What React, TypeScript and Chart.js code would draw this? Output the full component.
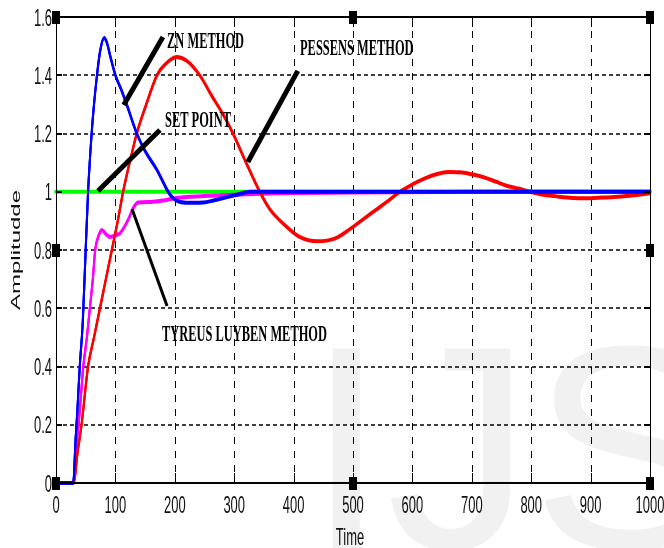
import React, { useEffect, useRef } from "react";
import { Chart, registerables } from "chart.js";

Chart.register(...registerables);

// ---- Axis ticks ----
const xTicks = [0, 100, 200, 300, 400, 500, 600, 700, 800, 900, 1000];
const xTickLabels = ["0", "100", "200", "300", "400", "500", "600", "700", "800", "900", "1000"];
const yTicks = [0, 0.2, 0.4, 0.6, 0.8, 1.0, 1.2, 1.4, 1.6];
const yTickLabels = ["0", "0.2", "0.4", "0.6", "0.8", "1", "1.2", "1.4", "1.6"];

// ---- Series ----
const znTime = [0, 29, 33, 36, 40, 45, 49, 54, 60, 64, 69, 74, 81, 86, 92, 100, 110, 119, 136, 150, 170, 192, 209, 230, 248, 265, 285, 305, 327, 400, 500, 600, 700, 800, 900, 1000];
const znValue = [0, 0, 0.15, 0.25, 0.4, 0.55, 0.75, 1.0, 1.2, 1.3, 1.4, 1.48, 1.528, 1.51, 1.46, 1.40, 1.35, 1.30, 1.2, 1.14, 1.075, 0.99, 0.965, 0.962, 0.963, 0.97, 0.98, 0.99, 1.0, 1.0, 1.0, 1.0, 1.0, 1.0, 1.0, 1.0];

const pessenTime = [0, 30, 36, 43, 54, 64, 74, 84, 94, 104, 113, 124, 136, 152, 170, 185, 203, 220, 242, 262, 280, 298, 320, 343, 360, 385, 410, 440, 470, 495, 520, 540, 560, 579, 600, 620, 640, 660, 680, 700, 720, 740, 760, 780, 798, 820, 840, 860, 880, 900, 920, 940, 960, 980, 1000];
const pessenValue = [0, 0, 0.1, 0.2, 0.4, 0.5, 0.6, 0.7, 0.8, 0.9, 1.0, 1.1, 1.2, 1.3, 1.4, 1.44, 1.463, 1.45, 1.4, 1.33, 1.27, 1.2, 1.1, 1.0, 0.94, 0.886, 0.845, 0.83, 0.84, 0.872, 0.91, 0.94, 0.97, 1.0, 1.025, 1.045, 1.06, 1.068, 1.067, 1.06, 1.05, 1.035, 1.02, 1.01, 1.0, 0.99, 0.985, 0.98, 0.978, 0.978, 0.98, 0.982, 0.985, 0.99, 0.995];

const tlTime = [0, 29, 33, 38, 42, 46, 52, 57, 62, 66, 72, 77, 84, 91, 100, 108, 118, 125, 130, 138, 160, 180, 200, 250, 300, 370, 500, 720, 1000];
const tlValue = [0, 0, 0.1, 0.2, 0.3, 0.4, 0.5, 0.6, 0.7, 0.8, 0.85, 0.869, 0.855, 0.845, 0.85, 0.858, 0.89, 0.92, 0.944, 0.963, 0.965, 0.97, 0.978, 0.985, 0.99, 0.995, 0.997, 1.0, 1.0];

const spTime = [0, 1000];
const spValue = [1, 1];

// ---- Annotations (data coordinates) ----
const annotationLabels = ["ZN METHOD", "SET POINT", "PESSENS METHOD", "TYREUS LUYBEN METHOD"];
const annotationTextX = [187, 183.5, 410.8, 178.5];
const annotationTextY = [1.494, 1.222, 1.4695, 0.4876];
const annotationFromX = [114, 70.7, 323, 128];
const annotationFromY = [1.298, 1.0026, 1.102, 0.941];
const annotationToX = [180, 175, 407, 187];
const annotationToY = [1.531, 1.212, 1.415, 0.608];
const annotationWeight = [5, 5, 5, 3];

const xTitle = "Time";
const yTitle = "Amplitudde";
const watermark = "IJS";

const SQ = 0.54; // horizontal squeeze of all text
const SANS = '"Liberation Sans", Arial, sans-serif';
const SERIF = '"Liberation Serif", "Times New Roman", serif';

function squeezedText(ctx: CanvasRenderingContext2D, text: string, x: number, y: number, font: string, align: CanvasTextAlign) {
  ctx.save();
  ctx.font = font;
  ctx.translate(x, y);
  ctx.scale(SQ, 1);
  ctx.textAlign = align;
  ctx.textBaseline = "alphabetic";
  ctx.fillText(text, 0, 0);
  ctx.restore();
}

// Thickens near-horizontal parts of curves (pen taller than wide)
const tallPen = {
  id: "tallPen",
  afterDatasetDraw(chart: any, args: any) {
    const meta = args.meta;
    const ds = chart.data.datasets[args.index];
    if (!ds.tall) return;
    const ctx: CanvasRenderingContext2D = chart.ctx;
    for (const off of [-1, 1]) {
      ctx.save();
      ctx.translate(0, off);
      meta.dataset.draw(ctx, chart.chartArea);
      ctx.restore();
    }
  },
};

const decor = {
  id: "decor",
  beforeDraw(chart: any) {
    const ctx: CanvasRenderingContext2D = chart.ctx;
    ctx.save();
    ctx.fillStyle = "#ffffff";
    ctx.fillRect(0, 0, chart.width, chart.height);
    ctx.fillStyle = "#f1f1f1";
    ctx.font = "290px " + SANS;
    ctx.textAlign = "left";
    ctx.textBaseline = "alphabetic";
    ctx.fillText(watermark, 306, 548);
    ctx.restore();
  },
  beforeDatasetsDraw(chart: any) {
    const ctx: CanvasRenderingContext2D = chart.ctx;
    const { left, right, top, bottom } = chart.chartArea;
    const xs = chart.scales.x;
    const ys = chart.scales.y;
    ctx.save();
    ctx.strokeStyle = "#000";
    ctx.lineWidth = 1;
    ctx.setLineDash([7, 7]);
    for (const t of xTicks) {
      const px = Math.round(xs.getPixelForValue(t)) + 0.5;
      if (px <= left + 1 || px >= right - 1) continue;
      ctx.beginPath();
      ctx.moveTo(px, top);
      ctx.lineTo(px, bottom);
      ctx.stroke();
    }
    ctx.lineWidth = 1.6;
    ctx.setLineDash([4, 3]);
    for (const t of yTicks) {
      const py = Math.round(ys.getPixelForValue(t));
      if (py <= top + 1 || py >= bottom - 1) continue;
      ctx.beginPath();
      ctx.moveTo(left, py);
      ctx.lineTo(right, py);
      ctx.stroke();
    }
    ctx.restore();
  },
  afterDatasetsDraw(chart: any) {
    const ctx: CanvasRenderingContext2D = chart.ctx;
    const { left, right, top, bottom } = chart.chartArea;
    const xs = chart.scales.x;
    const ys = chart.scales.y;
    ctx.save();
    // annotations
    ctx.strokeStyle = "#000";
    ctx.fillStyle = "#000";
    ctx.lineCap = "butt";
    for (let i = 0; i < annotationLabels.length; i++) {
      ctx.lineWidth = annotationWeight[i];
      ctx.beginPath();
      ctx.moveTo(xs.getPixelForValue(annotationFromX[i]), ys.getPixelForValue(annotationFromY[i]));
      ctx.lineTo(xs.getPixelForValue(annotationToX[i]), ys.getPixelForValue(annotationToY[i]));
      ctx.stroke();
      squeezedText(ctx, annotationLabels[i], xs.getPixelForValue(annotationTextX[i]), ys.getPixelForValue(annotationTextY[i]), "bold 23px " + SERIF, "left");
    }
    // frame
    ctx.setLineDash([]);
    ctx.lineWidth = 2;
    ctx.beginPath();
    ctx.moveTo(left, top); ctx.lineTo(right, top);
    ctx.moveTo(left, bottom); ctx.lineTo(right, bottom);
    ctx.stroke();
    ctx.lineWidth = 1;
    ctx.beginPath();
    ctx.moveTo(Math.round(left) + 0.5, top); ctx.lineTo(Math.round(left) + 0.5, bottom);
    ctx.moveTo(Math.round(right) + 0.5, top); ctx.lineTo(Math.round(right) + 0.5, bottom);
    ctx.stroke();
    // tick marks
    for (const t of xTicks) {
      const px = Math.round(xs.getPixelForValue(t)) + 0.5;
      ctx.beginPath();
      ctx.moveTo(px, bottom); ctx.lineTo(px, bottom - 10);
      ctx.moveTo(px, top); ctx.lineTo(px, top + 10);
      ctx.stroke();
    }
    ctx.lineWidth = 2;
    for (const t of yTicks) {
      const py = Math.round(ys.getPixelForValue(t));
      ctx.beginPath();
      ctx.moveTo(left, py); ctx.lineTo(left + 6, py);
      ctx.moveTo(right, py); ctx.lineTo(right - 6, py);
      ctx.stroke();
    }
    // tick labels
    ctx.fillStyle = "#111";
    xTicks.forEach((t, i) => {
      squeezedText(ctx, xTickLabels[i], xs.getPixelForValue(t), bottom + 30, "24px " + SANS, "center");
    });
    yTicks.forEach((t, i) => {
      squeezedText(ctx, yTickLabels[i], left - 4, ys.getPixelForValue(t) + 8.5, "24px " + SANS, "right");
    });
    // axis titles
    squeezedText(ctx, xTitle, (left + right) / 2 - 3, 545, "24px " + SANS, "center");
    ctx.save();
    ctx.font = "24px " + SANS;
    ctx.translate(20, (top + bottom) / 2);
    ctx.scale(SQ, 1);
    ctx.rotate(-Math.PI / 2);
    ctx.textAlign = "center";
    ctx.textBaseline = "alphabetic";
    ctx.fillText(yTitle, 0, 0);
    ctx.restore();
    // selection handles
    ctx.fillStyle = "#000";
    const cx = (left + right) / 2;
    const cy = (top + bottom) / 2;
    const handles = [
      [left, top], [cx, top], [right, top],
      [left, cy], [right, cy],
      [left, bottom], [cx, bottom], [right, bottom],
    ];
    for (const [hx, hy] of handles) {
      ctx.fillRect(Math.round(hx) - 4, Math.round(hy) - 6, 8, 13);
    }
    ctx.restore();
  },
};

function pts(t: number[], v: number[]) {
  return t.map((x, i) => ({ x, y: v[i] }));
}

export default function App() {
  const ref = useRef<HTMLCanvasElement | null>(null);
  useEffect(() => {
    if (!ref.current) return;
    const chart = new Chart(ref.current, {
      type: "line",
      data: {
        datasets: [
          { label: "ZN METHOD", data: pts(znTime, znValue), borderColor: "#0000ff", borderWidth: 2, order: 0, clip: 4, tall: true } as any,
          { label: "PESSENS METHOD", data: pts(pessenTime, pessenValue), borderColor: "#ff0000", borderWidth: 2, order: 1, clip: 4, tall: true } as any,
          { label: "TYREUS LUYBEN METHOD", data: pts(tlTime, tlValue), borderColor: "#ff00ff", borderWidth: 2, order: 2, clip: 4, tall: true } as any,
          { label: "SET POINT", data: pts(spTime, spValue), borderColor: "#00ff00", borderWidth: 4, order: 3, clip: 4 } as any,
        ],
      },
      options: {
        animation: false,
        responsive: false,
        devicePixelRatio: 1,
        layout: { padding: { left: 56, top: 17, right: 14, bottom: 65 } },
        plugins: { legend: { display: false }, tooltip: { enabled: false } },
        elements: {
          point: { radius: 0 },
          line: { cubicInterpolationMode: "monotone", borderJoinStyle: "round", borderCapStyle: "round", fill: false },
        },
        scales: {
          x: { type: "linear", min: 0, max: 1000, display: false },
          y: { type: "linear", min: 0, max: 1.6, display: false },
        },
      } as any,
      plugins: [decor, tallPen],
    });
    return () => chart.destroy();
  }, []);
  return (
    <div style={{ position: "absolute", left: 0, top: 0, width: 664, height: 548 }}>
      <canvas ref={ref} width={664} height={548} style={{ width: 664, height: 548, display: "block" }} />
    </div>
  );
}
